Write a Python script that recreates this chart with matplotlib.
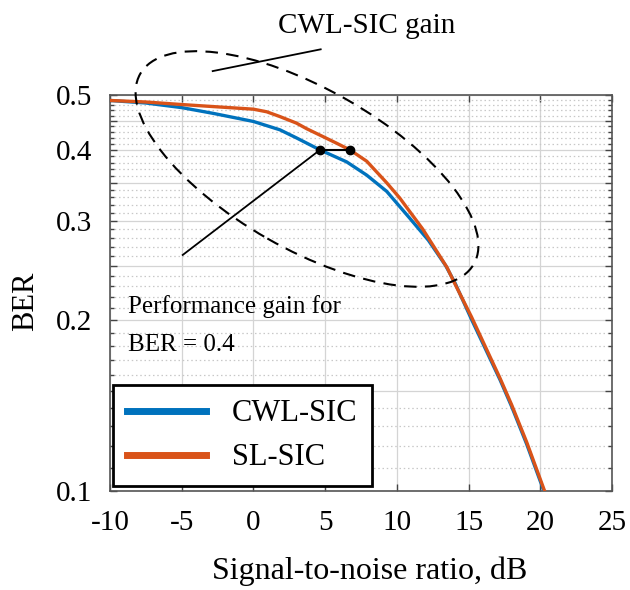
import matplotlib
matplotlib.use("Agg")
import matplotlib.pyplot as plt
import matplotlib.transforms as mtransforms
from matplotlib.patches import Ellipse
from matplotlib.ticker import FixedLocator, FixedFormatter
import numpy as np

# BER vs SNR
snr_cwl = [-10, -7.5, -5, -2.8, 0, 1.85, 3.0, 4.64, 6.5, 7.9, 9.29, 10.9, 12.2, 13.4,
           14.05, 15.2, 17.2, 18.0, 19.05, 20.25]
ber_cwl = [0.489, 0.484, 0.475, 0.464, 0.449, 0.434, 0.42, 0.40, 0.381, 0.361, 0.338, 0.303,
           0.277, 0.25, 0.233, 0.201, 0.157, 0.141, 0.121, 0.1]

snr_sl = [-10, -7.5, -5, -2.8, 0, 0.93, 1.85, 3.0, 3.71, 4.87, 5.8, 6.73, 7.9, 9.29, 10.2,
          11.8, 13.5, 14.05, 15.2, 17.2, 18.0, 19.05, 20.3]
ber_sl = [0.489, 0.486, 0.481, 0.477, 0.472, 0.467, 0.458, 0.446, 0.436, 0.422, 0.411, 0.40,
          0.382, 0.350, 0.329, 0.290, 0.248, 0.232, 0.203, 0.158, 0.142, 0.122, 0.1]

gain_snr = [4.64, 6.73]
gain_ber = [0.40, 0.40]

xticks = [-10, -5, 0, 5, 10, 15, 20, 25]
ytick_labels = {0.1: "0.1", 0.2: "0.2", 0.3: "0.3", 0.4: "0.4", 0.5: "0.5"}

BLUE = "#0072BD"
ORANGE = "#D95319"

plt.rcParams["font.family"] = ["Liberation Serif", "DejaVu Serif"]

fig = plt.figure(figsize=(6.3, 5.9), dpi=100)
ax = fig.add_axes([110 / 630, 1 - 491 / 590, 502 / 630, 396 / 590])

ax.plot(snr_cwl, ber_cwl, color=BLUE, lw=2.4, label="CWL-SIC", zorder=3,
        solid_joinstyle="round")
ax.plot(snr_sl, ber_sl, color=ORANGE, lw=2.4, label="SL-SIC", zorder=3,
        solid_joinstyle="round")

ax.set_yscale("log")
ax.set_xlim(-10, 25)
ax.set_ylim(0.1, 0.5)

# grid: solid every 0.05, dotted every 0.01
major_y = [round(v, 2) for v in np.arange(0.10, 0.501, 0.05)]
minor_y = [round(v, 2) for v in np.arange(0.11, 0.50, 0.01) if round(v, 2) not in major_y]
ax.yaxis.set_major_locator(FixedLocator(major_y))
ax.yaxis.set_major_formatter(FixedFormatter([ytick_labels.get(v, "") for v in major_y]))
ax.yaxis.set_minor_locator(FixedLocator(minor_y))
ax.yaxis.set_minor_formatter(FixedFormatter([""] * len(minor_y)))
ax.set_xticks(xticks)
ax.set_xticklabels([str(v) for v in xticks])

ax.grid(True, which="major", color="#d4d4d4", lw=0.9, zorder=0)
ax.grid(True, which="minor", axis="y", color="#c8c8c8", lw=0.9, linestyle=(0, (1.2, 2.2)), zorder=0)
ax.set_axisbelow(True)

ax.tick_params(which="both", direction="in", top=True, right=True, color="#444444")
ax.tick_params(which="major", length=5, width=1.0)
ax.tick_params(which="minor", length=3, width=1.0)
ax.tick_params(axis="x", labelsize=21, pad=14)
ax.tick_params(axis="y", labelsize=21, pad=13)
for sp in ax.spines.values():
    sp.set_color("#555555")
    sp.set_linewidth(1.2)

ax.set_xlabel("Signal-to-noise ratio, dB", fontsize=23)
ax.xaxis.set_label_coords(0.518, -0.165)
ax.set_ylabel("BER", fontsize=22)
ax.yaxis.set_label_coords(-0.14, 0.48)

leg = ax.legend(loc="lower left", bbox_to_anchor=(0.006, 0.012), fontsize=22,
                handlelength=2.6, handletextpad=0.85, labelspacing=0.5,
                borderpad=0.45, borderaxespad=0, fancybox=False, framealpha=1)
leg.get_frame().set_edgecolor("black")
leg.get_frame().set_linewidth(2)
for h in leg.get_lines():
    h.set_linewidth(5)

# performance gain marker at BER = 0.4
ax.plot(gain_snr, gain_ber, color="black", lw=1.5, marker="o", ms=6, zorder=4)
ax.plot([-4.93, gain_snr[0]], [0.261, gain_ber[0]], color="black", lw=1.3, zorder=4)
ax.text(0.036, 0.465, "Performance gain for", transform=ax.transAxes, fontsize=18,
        ha="left", va="center")
ax.text(0.036, 0.369, "BER = 0.4", transform=ax.transAxes, fontsize=18,
        ha="left", va="center")

# dashed ellipse around the gain region (figure pixels)
ell = Ellipse((307, 590 - 169), 384, 160, angle=-29.7, fill=False, edgecolor="black",
              lw=1.5, linestyle=(0, (6, 4)), transform=mtransforms.IdentityTransform(),
              zorder=5)
fig.add_artist(ell)
ax.plot([-2.84, 4.69], [0.551, 0.602], color="black", lw=1.3, clip_on=False, zorder=5)
fig.text(278 / 630, 1 - 26 / 590, "CWL-SIC gain", fontsize=21, ha="left", va="center")

fig.savefig("out.png", dpi=100)
